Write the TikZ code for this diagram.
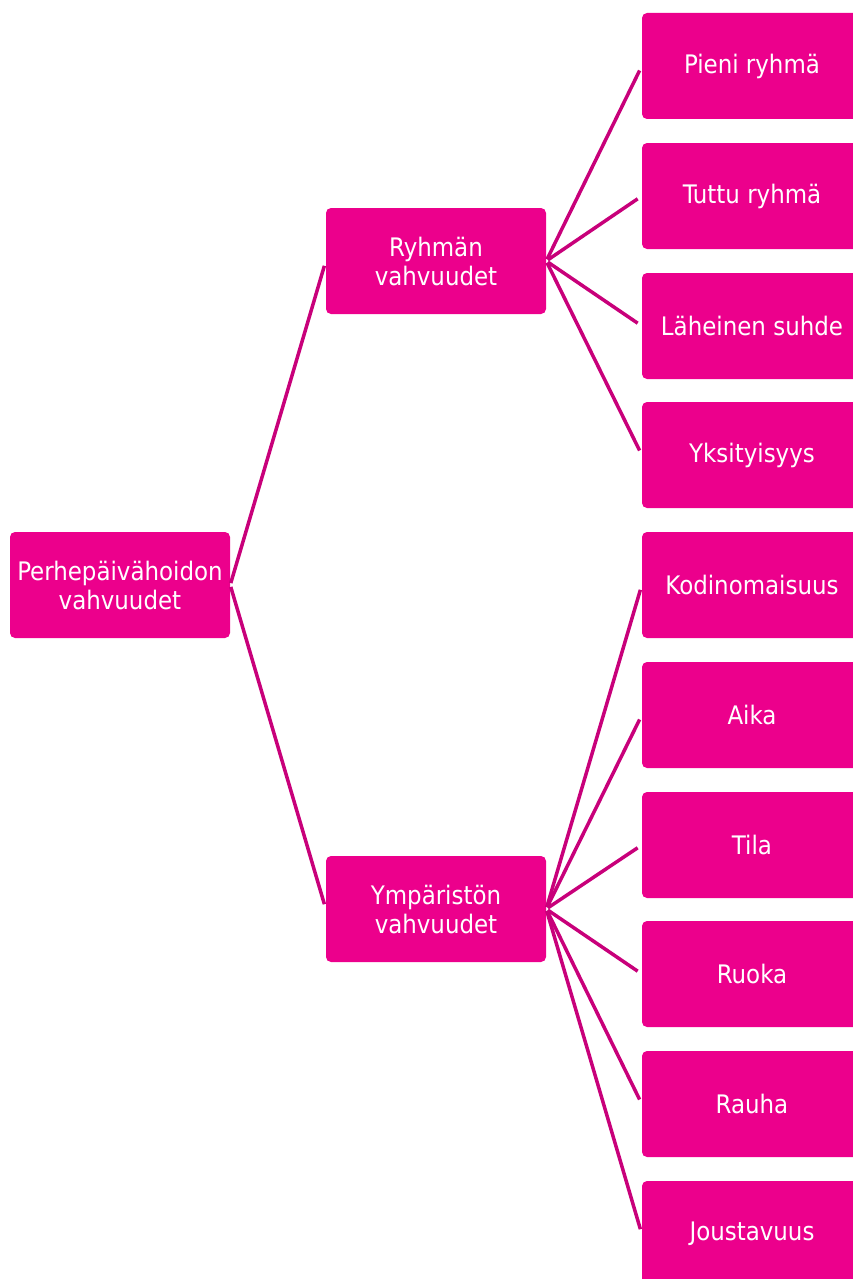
\documentclass[tikz,border=0pt]{standalone}
\usepackage{fontspec}
\setmainfont{DejaVu Sans Condensed}
\usepackage{xcolor}
\usetikzlibrary{positioning}
\definecolor{boxpink}{HTML}{EC008C}
\definecolor{linepink}{HTML}{C8007A}
\tikzset{
  box/.style={rectangle, rounded corners=5pt, fill=boxpink, text=white,
    minimum width=220pt, minimum height=106pt, align=center,
    font=\fontsize{25.5}{29}\selectfont},
  link/.style={draw=linepink, line width=3.5pt, shorten <=2pt, shorten >=5pt}
}
\begin{document}
\begin{tikzpicture}[x=1pt, y=-1pt]
    \useasboundingbox (0,0) rectangle (853,1279);
    \clip (0,0) rectangle (853,1279);

    \node[box] (P) at (120,585) {Perhepäivähoidon\\vahvuudet};

    \node[box] (R) at (436,261) {Ryhmän\\vahvuudet};
    \node[box] (Y) at (436,909) {Ympäristön\\vahvuudet};

    \node[box] (R1) at (752,66) {Pieni ryhmä};
    \node[box] (R2) at (752,196) {Tuttu ryhmä};
    \node[box] (R3) at (752,326) {Läheinen suhde};
    \node[box] (R4) at (752,455) {Yksityisyys};

    \node[box] (Y1) at (752,585) {Kodinomaisuus};
    \node[box] (Y2) at (752,715) {Aika};
    \node[box] (Y3) at (752,845) {Tila};
    \node[box] (Y4) at (752,974) {Ruoka};
    \node[box] (Y5) at (752,1104) {Rauha};
    \node[box] (Y6) at (752,1234) {Joustavuus};

    \draw[link] (P.east) -- (R.west);
    \draw[link] (P.east) -- (Y.west);

    \draw[link] (R.east) -- (R1.west);
    \draw[link] (R.east) -- (R2.west);
    \draw[link] (R.east) -- (R3.west);
    \draw[link] (R.east) -- (R4.west);

    \draw[link] (Y.east) -- (Y1.west);
    \draw[link] (Y.east) -- (Y2.west);
    \draw[link] (Y.east) -- (Y3.west);
    \draw[link] (Y.east) -- (Y4.west);
    \draw[link] (Y.east) -- (Y5.west);
    \draw[link] (Y.east) -- (Y6.west);
\end{tikzpicture}
\end{document}
